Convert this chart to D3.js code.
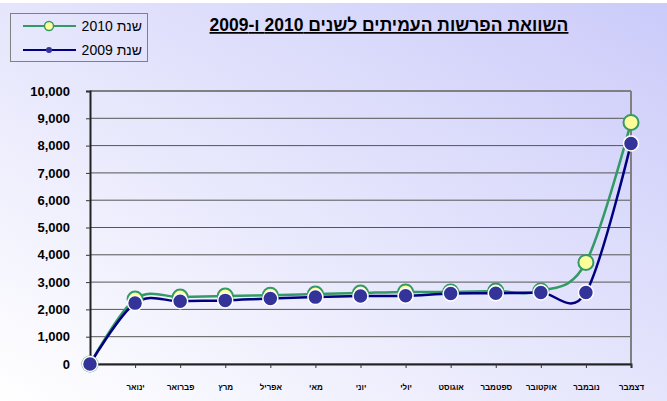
<!DOCTYPE html>
<html>
<head>
<meta charset="utf-8">
<script src="https://cdn.jsdelivr.net/npm/d3@7"></script>
<style>
  body { margin: 0; }
  svg { display: block; font-family: Arial, "Liberation Sans", sans-serif; }
</style>
</head>
<body>
<script>
// chart data
const months = ["", "ינואר", "פברואר", "מרץ", "אפריל", "מאי", "יוני", "יולי", "אוגוסט", "ספטמבר", "אוקטובר", "נובמבר", "דצמבר"];
const values2010 = [0, 2380, 2450, 2490, 2520, 2560, 2600, 2640, 2640, 2670, 2670, 3720, 8850];
const values2009 = [0, 2230, 2300, 2330, 2400, 2450, 2490, 2500, 2580, 2590, 2620, 2620, 8080];
const yTicks = [0, 1000, 2000, 3000, 4000, 5000, 6000, 7000, 8000, 9000, 10000];
const title = "השוואת הפרשות העמיתים לשנים 2010 ו-2009";
const legendLabels = ["שנת 2010", "שנת 2009"];

const width = 667, height = 401;
const plot = { left: 90, right: 631, top: 91, bottom: 364 };

const svg = d3.select("body").append("svg")
    .attr("width", width)
    .attr("height", height);

// background gradient
const defs = svg.append("defs");
const grad = defs.append("linearGradient")
    .attr("id", "bg")
    .attr("x1", "0%").attr("y1", "100%")
    .attr("x2", "100%").attr("y2", "0%");
grad.append("stop").attr("offset", "0%").attr("stop-color", "#ffffff");
grad.append("stop").attr("offset", "100%").attr("stop-color", "#cbcbfa");

svg.append("rect").attr("width", width).attr("height", height).attr("fill", "#ffffff");
svg.append("rect")
    .attr("x", 0).attr("y", 3)
    .attr("width", width).attr("height", height - 3)
    .attr("fill", "url(#bg)");

// scales
const x = d3.scalePoint()
    .domain(d3.range(months.length))
    .range([plot.left, plot.right]);

const y = d3.scaleLinear()
    .domain([0, 10000])
    .range([plot.bottom, plot.top]);

// gridlines
svg.append("g")
    .selectAll("line")
    .data(yTicks)
    .join("line")
    .attr("x1", plot.left).attr("x2", plot.right)
    .attr("y1", d => y(d)).attr("y2", d => y(d))
    .attr("stroke", "#555")
    .attr("stroke-width", 1);

// right + top border of plot area
svg.append("line")
    .attr("x1", plot.right).attr("x2", plot.right)
    .attr("y1", plot.top).attr("y2", plot.bottom)
    .attr("stroke", "#808080").attr("stroke-width", 2);
svg.append("line")
    .attr("x1", plot.left).attr("x2", plot.right)
    .attr("y1", plot.top).attr("y2", plot.top)
    .attr("stroke", "#808080").attr("stroke-width", 2);

// y axis
const yAxis = svg.append("g")
    .attr("transform", `translate(${plot.left},0)`)
    .call(d3.axisLeft(y).tickValues(yTicks).tickSize(4).tickPadding(16)
        .tickFormat(d3.format(",")));
yAxis.select(".domain").attr("stroke", "#222").attr("stroke-width", 2);
yAxis.selectAll(".tick line").attr("stroke", "#333");
yAxis.selectAll("text")
    .attr("font-size", 13)
    .attr("font-weight", "bold")
    .attr("fill", "#000");

// x axis
const xAxis = svg.append("g")
    .attr("transform", `translate(0,${plot.bottom})`)
    .call(d3.axisBottom(x).tickSize(4).tickPadding(16).tickFormat(i => months[i]));
xAxis.select(".domain").attr("stroke", "#222").attr("stroke-width", 2);
xAxis.selectAll(".tick line").attr("stroke", "#333");
xAxis.selectAll("text")
    .attr("font-size", 8)
    .attr("font-weight", "bold")
    .attr("fill", "#000");

// lines
const line = d3.line()
    .x((d, i) => x(i))
    .y(d => y(d))
    .curve(d3.curveCardinal.tension(0));

const series = [
    { values: values2010, stroke: "#339966", fill: "#ffff99", mstroke: "#339966", mwidth: 2 },
    { values: values2009, stroke: "#000080", fill: "#333399", mstroke: "#ffffff", mwidth: 1.5 }
];

series.forEach(s => {
    svg.append("path")
        .datum(s.values)
        .attr("d", line)
        .attr("fill", "none")
        .attr("stroke", s.stroke)
        .attr("stroke-width", 2.5);
});

series.forEach(s => {
    svg.append("g")
        .selectAll("circle")
        .data(s.values)
        .join("circle")
        .attr("cx", (d, i) => x(i))
        .attr("cy", d => y(d))
        .attr("r", 7.5)
        .attr("fill", s.fill)
        .attr("stroke", s.mstroke)
        .attr("stroke-width", s.mwidth);
});

// title
svg.append("text")
    .attr("x", 389)
    .attr("y", 31)
    .attr("text-anchor", "middle")
    .attr("direction", "rtl")
    .attr("font-size", 17.5)
    .attr("font-weight", "bold")
    .attr("text-decoration", "underline")
    .text(title);

// legend
const legend = svg.append("g");
legend.append("rect")
    .attr("x", 10.5).attr("y", 13.5)
    .attr("width", 137).attr("height", 48)
    .attr("fill", "none")
    .attr("stroke", "#808080");

series.forEach((s, i) => {
    const ly = 26 + i * 24;
    legend.append("line")
        .attr("x1", 23).attr("x2", 76)
        .attr("y1", ly).attr("y2", ly)
        .attr("stroke", s.stroke).attr("stroke-width", 2);
    legend.append("circle")
        .attr("cx", 49).attr("cy", ly)
        .attr("r", i === 0 ? 4.5 : 3)
        .attr("fill", s.fill)
        .attr("stroke", i === 0 ? s.mstroke : "none")
        .attr("stroke-width", 1.5);
    legend.append("text")
        .attr("x", 142).attr("y", ly + 5)
        .attr("text-anchor", "end")
        .attr("font-size", 14)
        .text(legendLabels[i]);
});
</script>
</body>
</html>
